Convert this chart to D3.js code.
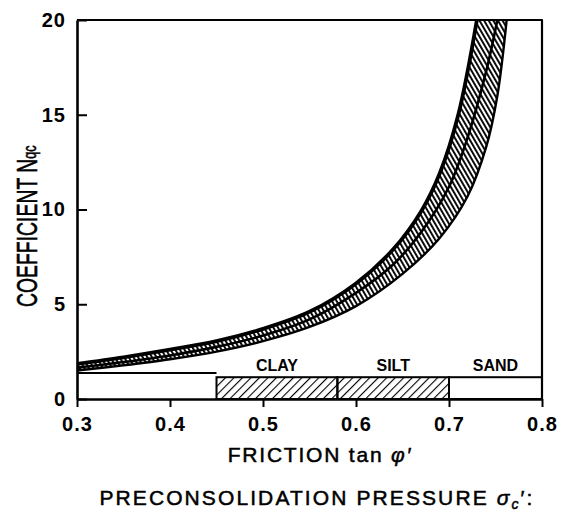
<!DOCTYPE html>
<html>
<head>
<meta charset="utf-8">
<script src="https://d3js.org/d3.v7.min.js"></script>
<style>
  body { margin: 0; background: #fff; }
  text { font-family: "Liberation Sans", Arial, sans-serif; fill: #000; }
</style>
</head>
<body>
<div id="chart"></div>
<script>
// readings from the plot: friction tan(phi') vs coefficient Nqc
var upperTan = [0.30, 0.35, 0.40, 0.45, 0.50, 0.55, 0.60, 0.64, 0.67, 0.69, 0.71, 0.73];
var upperN   = [1.85, 2.2, 2.6, 3.05, 3.7, 4.6, 6.1, 7.9, 9.9, 11.9, 15.0, 20];

var middleTan = [0.30, 0.35, 0.40, 0.45, 0.50, 0.55, 0.60, 0.64, 0.67, 0.70, 0.72, 0.74, 0.752];
var middleN   = [1.65, 1.95, 2.3, 2.75, 3.35, 4.2, 5.6, 7.1, 8.8, 11.2, 13.8, 17.3, 20];

var lowerTan = [0.30, 0.35, 0.40, 0.45, 0.50, 0.55, 0.60, 0.65, 0.69, 0.72, 0.74, 0.752, 0.762];
var lowerN   = [1.5, 1.78, 2.1, 2.5, 3.05, 3.8, 4.9, 6.6, 8.5, 10.7, 13.3, 16.0, 20];

// soil ranges on the preconsolidation bar
var soilNames = ["CLAY", "SILT", "SAND"];
var soilFrom  = [0.45, 0.58, 0.70];
var soilTo    = [0.58, 0.70, 0.80];
var soilHatch = [true, true, false];
var barTopN   = 1.15;
var leftLineN = 1.37;

var xTicks = [0.3, 0.4, 0.5, 0.6, 0.7, 0.8];
var yTicks = [0, 5, 10, 15, 20];

var W = 561, H = 512;
var margin = {top: 20, right: 19, bottom: 113, left: 77};

var svg = d3.select("#chart").append("svg")
    .attr("width", W)
    .attr("height", H);

var x = d3.scaleLinear().domain([0.3, 0.8]).range([margin.left, W - margin.right]);
var y = d3.scaleLinear().domain([0, 20]).range([H - margin.bottom, margin.top]);

var defs = svg.append("defs");

defs.append("clipPath").attr("id", "plotClip")
  .append("rect")
    .attr("x", x(0.3)).attr("y", y(20))
    .attr("width", x(0.8) - x(0.3)).attr("height", y(0) - y(20));

// dense hatching for the bands between curves
var bp = defs.append("pattern")
    .attr("id", "bandHatch")
    .attr("patternUnits", "userSpaceOnUse")
    .attr("width", 4).attr("height", 4)
    .attr("patternTransform", "rotate(-30)");
bp.append("rect").attr("x", 0).attr("y", 0).attr("width", 1.9).attr("height", 4).attr("fill", "#000");

// lighter hatching for the soil boxes
var sp = defs.append("pattern")
    .attr("id", "soilHatch")
    .attr("patternUnits", "userSpaceOnUse")
    .attr("width", 6).attr("height", 6)
    .attr("patternTransform", "rotate(45)");
sp.append("rect").attr("x", 0).attr("y", 0).attr("width", 1.1).attr("height", 6).attr("fill", "#000");

var line = d3.line()
    .x(function(d) { return x(d[0]); })
    .y(function(d) { return y(d[1]); })
    .curve(d3.curveCatmullRom.alpha(0.5));

var upper = d3.zip(upperTan, upperN);
var middle = d3.zip(middleTan, middleN);
var lower = d3.zip(lowerTan, lowerN);

function band(a, b) {
  return line(a) + line(b.slice().reverse()).replace(/^M/, "L") + "Z";
}

var plot = svg.append("g").attr("clip-path", "url(#plotClip)");

plot.append("path").attr("d", band(upper, middle)).attr("fill", "url(#bandHatch)");
plot.append("path").attr("d", band(middle, lower)).attr("fill", "url(#bandHatch)");

plot.selectAll("path.curve")
  .data([[upper, 3.8], [middle, 2.6], [lower, 2.4]])
  .enter().append("path")
    .attr("class", "curve")
    .attr("d", function(d) { return line(d[0]); })
    .attr("fill", "none")
    .attr("stroke", "#000")
    .attr("stroke-width", function(d) { return d[1]; });

// soil bar
var soils = soilNames.map(function(n, i) {
  return {name: n, from: soilFrom[i], to: soilTo[i], hatch: soilHatch[i]};
});

svg.append("line")
    .attr("x1", x(0.3)).attr("x2", x(soilFrom[0]))
    .attr("y1", y(leftLineN)).attr("y2", y(leftLineN))
    .attr("stroke", "#000").attr("stroke-width", 2);

svg.selectAll("rect.soil")
  .data(soils)
  .enter().append("rect")
    .attr("class", "soil")
    .attr("x", function(d) { return x(d.from); })
    .attr("y", y(barTopN))
    .attr("width", function(d) { return x(d.to) - x(d.from); })
    .attr("height", y(0) - y(barTopN))
    .attr("fill", function(d) { return d.hatch ? "url(#soilHatch)" : "#fff"; })
    .attr("stroke", "#000")
    .attr("stroke-width", 2);

svg.selectAll("text.soil")
  .data(soils)
  .enter().append("text")
    .attr("class", "soil")
    .attr("x", function(d) { return x((d.from + d.to) / 2); })
    .attr("y", y(barTopN) - 6)
    .attr("text-anchor", "middle")
    .style("font-size", "16px")
    .style("font-weight", "bold")
    .text(function(d) { return d.name; });

// axes
var xAxis = svg.append("g")
    .attr("transform", "translate(0," + y(0) + ")")
    .call(d3.axisBottom(x).tickValues(xTicks).tickFormat(d3.format(".1f"))
      .tickSize(8).tickSizeOuter(0).tickPadding(10));

var yAxis = svg.append("g")
    .attr("transform", "translate(" + x(0.3) + ",0)")
    .call(d3.axisLeft(y).tickValues(yTicks).tickSize(-10).tickSizeOuter(0).tickPadding(11));

[xAxis, yAxis].forEach(function(g) {
  g.select(".domain").attr("stroke-width", 2.6);
  g.selectAll(".tick line").attr("stroke-width", 2);
  g.selectAll(".tick text")
    .style("font-family", "'Liberation Sans', Arial, sans-serif")
    .style("font-size", "20px")
    .style("font-weight", "bold")
    .style("letter-spacing", "1px");
});

// top and right frame
svg.append("path")
    .attr("d", "M" + x(0.3) + "," + y(20) + "H" + x(0.8) + "V" + y(0))
    .attr("fill", "none")
    .attr("stroke", "#000")
    .attr("stroke-width", 2.2)
    .attr("stroke-linejoin", "round");

// titles
var xt = svg.append("text")
    .attr("x", 320).attr("y", 462)
    .attr("text-anchor", "middle")
    .style("font-size", "21px")
    .style("letter-spacing", "1.8px")
    .style("stroke", "#000").style("stroke-width", 0.5);
xt.append("tspan").text("FRICTION tan ");
xt.append("tspan").style("font-style", "italic").text("\u03C6\u2032");

var pt = svg.append("text")
    .attr("x", 317).attr("y", 505)
    .attr("text-anchor", "middle")
    .style("font-size", "21px")
    .style("letter-spacing", "2.1px")
    .style("stroke", "#000").style("stroke-width", 0.5);
pt.append("tspan").text("PRECONSOLIDATION PRESSURE  ");
pt.append("tspan").style("font-style", "italic").text("\u03C3");
pt.append("tspan").style("font-style", "italic").style("font-size", "14px").attr("dy", 4).text("c");
pt.append("tspan").attr("dy", -4).text("\u2032:");

var yt = svg.append("text")
    .attr("transform", "translate(37,307) rotate(-90) scale(0.97,1.45)")
    .attr("text-anchor", "start")
    .style("font-size", "20px")
    .style("stroke", "#000").style("stroke-width", 0.4);
yt.append("tspan").text("COEFFICIENT N");
yt.append("tspan").style("font-size", "13px").attr("dy", -1).text("qc");
</script>
</body>
</html>
